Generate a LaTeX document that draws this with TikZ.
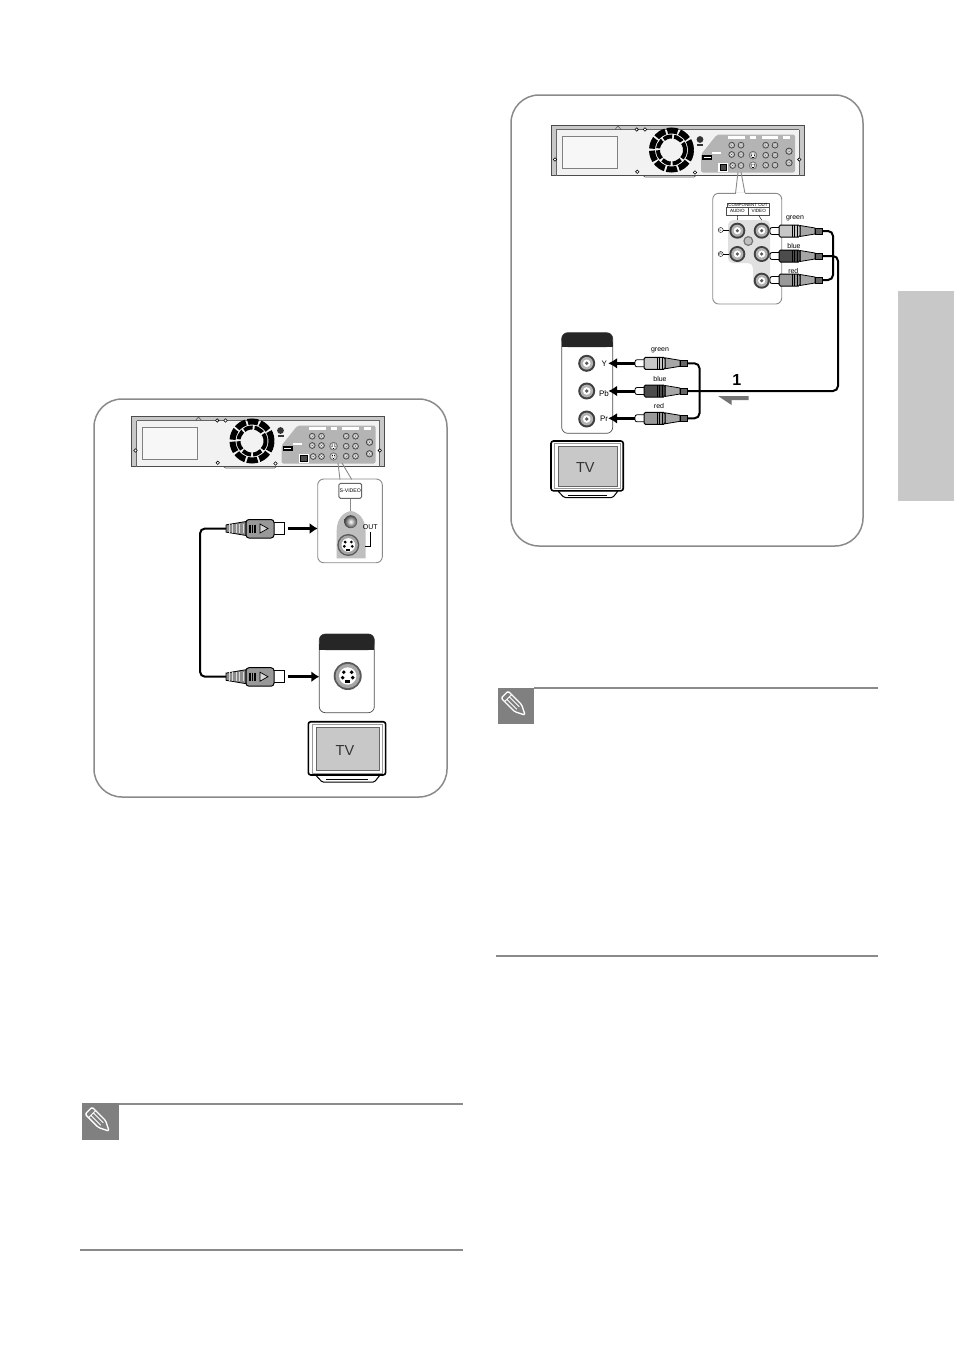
\documentclass[tikz,border=0pt]{standalone}
\usepackage{fontspec}
\setmainfont{Liberation Sans}
\definecolor{framegray}{HTML}{8A8A8A}
\definecolor{panelgray}{HTML}{B4B4B4}
\definecolor{sidegray}{HTML}{C8C8C8}
\definecolor{notegray}{HTML}{808080}
\tikzset{
  frame/.style={draw=framegray,line width=1.5pt,rounded corners=28pt},
  rule/.style={draw=framegray,line width=2pt},
  cable/.style={draw=black,line width=2pt,rounded corners=5pt},
  bigarrow/.style={draw=black,line width=3pt,-{Latex[length=8pt,width=11pt]}},
  magbox/.style={draw=framegray,fill=white,line width=.9pt,rounded corners=6pt,inner sep=0,outer sep=0,anchor=north west},
  portbox/.style={draw=black!70,fill=white,line width=.7pt,rounded corners=6pt,inner sep=0,outer sep=0,anchor=north west},
  wee/.style={font=\fontsize{7}{8}\selectfont,inner sep=0},
  small/.style={font=\fontsize{8}{9}\selectfont,inner sep=0},
  pics/jack/.style={code={
    \fill[black!75] (0,0) circle[radius=#1];
    \fill[black!30] (0,0) circle[radius=.75*#1];
    \fill[white] (0,0) circle[radius=.45*#1];
    \fill[black!65] (0,0) circle[radius=.22*#1];
  }},
  pics/svsocket/.style={code={
    \fill[black!65] (0,0) circle[radius=#1];
    \fill[black!35] (0,0) circle[radius=.87*#1];
    \fill[white] (0,0) circle[radius=.62*#1];
    \fill[black] (-.28*#1,-.27*#1) circle[radius=.14*#1] (.28*#1,-.27*#1) circle[radius=.14*#1]
      (-.36*#1,.12*#1) circle[radius=.14*#1] (.36*#1,.12*#1) circle[radius=.14*#1];
    \fill[black] (-.18*#1,.32*#1) rectangle (.18*#1,.5*#1);
  }},
  pics/svplug/.style={code={
    \draw[fill=black!45,line width=.8pt] (0,-3.6) -- (20,-7) -- (20,7) -- (0,3.6) -- cycle;
    \foreach \i in {3,6.5,10,13.5,17} \draw[black!15,line width=.8pt] (\i,-4.5) -- (\i,4.5);
    \draw[fill=white,line width=1pt] (47,-5.8) rectangle (58.5,5.8);
    \draw[fill=black!40,line width=1pt,rounded corners=3pt] (20,-9) rectangle (48,9.5);
    \foreach \i in {24,26.5,29} \draw[line width=1.2pt] (\i,-4) -- (\i,4);
    \draw[line width=.7pt,fill=black!15] (34,-4.5) -- (42,0) -- (34,4.5) -- cycle;
    \coordinate (-tail) at (0,0);
    \coordinate (-tip) at (58.5,0);
  }},
  pics/rcaplug/.style={code={
    \draw[fill=white,line width=.8pt,rounded corners=2pt] (0,-3.5) rectangle (11,3.5);
    \draw[fill=black!35,line width=.8pt] (30,-5.5) -- (45,-3) -- (45,3) -- (30,5.5) -- cycle;
    \draw[fill=black!60,line width=.8pt] (45,-3) rectangle (52,3);
    \draw[fill=#1,line width=1pt,rounded corners=1.5pt] (9,-6) rectangle (30,6);
    \foreach \i in {22,24.5,27} \draw[line width=.9pt] (\i,-6) -- (\i,6);
    \coordinate (-tip) at (0,0);
    \coordinate (-tail) at (52,0);
  }},
  pics/tvset/.style={code={
    \draw[fill=white,line width=1pt,rounded corners=1.5pt] (7,53) -- (14,60.5) -- (66,60.5) -- (72,53) -- cycle;
    \draw[line width=.4pt] (18,57.5) -- (60,57.5);
    \draw[fill=white,line width=1.6pt,rounded corners=2.5pt] (0,0) rectangle (77.3,53.3);
    \draw[draw=black!60,fill=sidegray,line width=.5pt] (7.7,5.7) rectangle (70.7,48.3);
    \draw[draw=black!40,line width=.4pt] (3.5,2.5) rectangle (73.8,51);
    \node[font=\fontsize{14.5}{16}\selectfont,text=black!80,inner sep=0] (-label) at (36.7,28.5) {TV};
  }},
  pics/pencil/.style={code={
    \draw[white,line width=1.3pt,rounded corners=1.5pt,line join=round]
      (-14,-5) -- (5,-5) -- (15,0) -- (5,5) -- (-14,5) -- cycle;
    \draw[white,line width=.9pt] (-9,-5) -- (-9,5) (-9,-1.7) -- (5,-1.7) (-9,1.7) -- (5,1.7);
  }},
  pics/vcrpanel/.style={code={
    % case and side strips
    \draw[fill=black!5,line width=.8pt] (0,0) rectangle (253,50);
    \fill[sidegray] (0,0) -- (253,0) -- (248,4) -- (5,4) -- cycle;
    \fill[sidegray] (0,0) rectangle (5,50) (248,0) rectangle (253,50);
    \draw[black!70,line width=.8pt] (0,0) rectangle (253,50);
    \draw[black!60,line width=.4pt] (5,4) -- (5,50) (248,4) -- (248,50) (5,4) -- (248,4);
    \draw[black!70,line width=.6pt] (92,50) -- (94,51.5) -- (143,51.5) -- (145,50);
    \draw[black!70,line width=.5pt] (64,4) -- (67,.5) -- (70,4);
    % window
    \draw[fill=black!3,draw=black!50,line width=.6pt] (11,11) rectangle (66,43);
    % fan
    \draw[line width=6pt,dash pattern=on 10.5pt off 2pt] (120.5,24.5) circle[radius=19.5];
    \draw[line width=4pt,dash pattern=on 9pt off 2pt] (120.5,24.5) circle[radius=13.5];
    % screws
    \foreach \sx/\sy in {4/34,85.7/4,94/4,86.3/46.3,144/47,248.3/34}
      \draw[line width=.6pt,fill=white] (\sx,\sy) circle[radius=1.7];
    \fill[black!80] (149,14) circle[radius=3.4];
    \fill[black!80] (146,18.5) rectangle (152,20.5);
    % connector field
    \fill[panelgray,rounded corners=2pt] (150,29) -- (166,9) -- (244,9) -- (244,47) -- (150,47) -- cycle;
    \foreach \lx/\lw in {177.3/16.7,199/6,210.7/16.3,232/7}
      \fill[white] (\lx,10.7) rectangle ++(\lw,3);
    \foreach \jx/\jy in {180.7/19.7,190/19.7,180.7/29,190/29,181.7/40,190/40,
        214.7/19.7,224/19.7,214.7/29.7,224/29.7,214.7/39.7,224/39.7}
      \pic at (\jx,\jy) {jack=3.3};
    \pic at (202,29.7) {svsocket=4.2};
    \pic at (202,40) {svsocket=4};
    \pic at (238,25.7) {jack=3.6};
    \pic at (238,37.3) {jack=3.6};
    \fill[white] (167,37) rectangle (177,46);
    \draw[fill=black!70,draw=black,line width=.5pt] (169,38.5) rectangle (175.5,45);
    \fill[black] (151,29) rectangle (161,34);
    \draw[white,line width=.4pt] (152.5,31.5) -- (159.5,31.5);
    \fill[white] (161,26) rectangle (170,28.5);
    \coordinate (-port) at (206,50);
  }}
}
\usetikzlibrary{arrows.meta}
\begin{document}
\begin{tikzpicture}[x=1pt,y=-1pt,line width=1pt]
  \useasboundingbox (0,0) rectangle (954,1349);
  \fill[sidegray] (898,291) rectangle (954,501);

  % s-video frame
  \draw[frame] (94,399) rectangle (447,797);
  \pic (vcra) at (131.5,416.5) {vcrpanel};
  \node[magbox,minimum width=64.6pt,minimum height=83.7pt] (svbox) at (317.7,479) {};
  \draw[framegray,line width=.9pt] (338,463) -- (340,479.5) (342,463) -- (351.7,479.5);
  \fill[white] (340.6,479.5) rectangle (351,480.5);
  \fill[black!25] (336.7,558.3) -- (336.7,530) .. controls (337,518) and (344,512) .. (351,511)
    .. controls (358,512) and (365,518) .. (365.5,530) -- (365.5,558.3) -- cycle;
  \draw[framegray] (350.5,498) -- (350.5,511);
  \node[draw=black!60,rounded corners=1.5pt,minimum width=22.7pt,minimum height=15pt,inner sep=0,
    font=\fontsize{5.2}{6}\selectfont] (svlabel) at (350.3,490.8) {S-VIDEO};
  \shade[inner color=white,outer color=black!75] (350.7,521.7) circle[radius=6.5];
  \pic at (348.3,545) {svsocket=11};
  \node[small,font=\fontsize{7}{8}\selectfont] (outlabel) at (370.3,527.5) {OUT};
  \draw[line width=.7pt] (370,532) -- (370,546.7) -- (365,546.7);

  \pic (sva) at (226,528.5) {svplug};
  \pic (svb) at (226,676.7) {svplug};
  \coordinate (svbend) at (200,600);
  \draw[cable] (sva-tail) -- (sva-tail -| svbend) -- (svb-tail -| svbend) -- (svb-tail);
  \draw[bigarrow,shorten <=3.5pt] (sva-tip) -- (sva-tip -| svbox.west);

  \node[portbox,minimum width=55pt,minimum height=78.7pt] (tvsv) at (319.3,634) {};
  \fill[black!85,rounded corners=6pt] (319.3,650) -- (319.3,634) -- (374.3,634) -- (374.3,650) -- cycle;
  \fill[black!85] (319.3,644) rectangle (374.3,650);
  \pic at (347.7,676) {svsocket=14};
  \draw[bigarrow,shorten <=3.5pt] (svb-tip) -- (svb-tip -| tvsv.west);
  \pic (tva) at (308.3,721.7) {tvset};

  % note one
  \draw[rule] (119,1104) -- (463,1104);
  \fill[notegray] (82.3,1103.3) rectangle (119,1140);
  \pic[rotate=-45] at (98.5,1120.5) {pencil};
  \draw[rule] (80,1250) -- (463,1250);

  % component frame
  \draw[frame] (511,95) rectangle (863,546);
  \pic (vcrb) at (551,125.5) {vcrpanel};
  \node[magbox,minimum width=69pt,minimum height=110.7pt] (compbox) at (712.7,193.3) {};
  \draw[framegray,line width=.9pt] (738,172) -- (735.5,193.5) (741,172) -- (745,193.5);
  \fill[white] (736,193) rectangle (744.6,194.2);
  \fill[black!12,rounded corners=5pt] (728,220) -- (770,220) -- (770,287) -- (753,287) -- (753,263) -- (728,263) -- cycle;
  \node[wee,draw=black!70,line width=.4pt,minimum width=42.6pt,minimum height=4.6pt,
    font=\fontsize{4.4}{5}\selectfont] (complabel) at (748,205) {COMPONENT OUT};
  \node[wee,draw=black!70,line width=.4pt,minimum width=21.3pt,minimum height=8pt,
    font=\fontsize{4.6}{5}\selectfont] (audiolabel) at (737.3,211.3) {AUDIO};
  \node[wee,draw=black!70,line width=.4pt,minimum width=21.3pt,minimum height=8pt,
    font=\fontsize{4.6}{5}\selectfont] (videolabel) at (758.7,211.3) {VIDEO};
  \draw[line width=.4pt] (audiolabel.south) -- (737.7,220) (videolabel.south) -- (761.7,220);
  \foreach \jx/\jy/\jn in {737.3/230.7/ja,761.7/230.7/jb,737.3/254/jc,761.7/254/jd,761.7/280.7/je}
    \pic (\jn) at (\jx,\jy) {jack=8};
  \fill[black!55] (748.3,241) circle[radius=5];
  \fill[black!25] (748.3,241) circle[radius=3.6];
  \node[wee,draw,circle,line width=.4pt,minimum size=5pt,font=\fontsize{3.6}{4}\selectfont] (leftmark) at (720.7,230) {L};
  \node[wee,draw,circle,line width=.4pt,minimum size=5pt,font=\fontsize{3.6}{4}\selectfont] (rightmark) at (720.7,254) {R};
  \draw[line width=.4pt] (leftmark) -- (729,230) (rightmark) -- (729,254);

  \pic (oa) at (770,231) {rcaplug=black!22};
  \pic (ob) at (770,256) {rcaplug=black!70};
  \pic (oc) at (770,280) {rcaplug=black!40};
  \node[wee] (ogreen) at (795,218.3) {green};
  \node[wee] (oblue) at (794,246) {blue};
  \node[wee] (ored) at (793.3,270.7) {red};

  \node[portbox,minimum width=51pt,minimum height=100.6pt] (tvcomp) at (561.7,332.7) {};
  \fill[black!85,rounded corners=6pt] (561.7,347) -- (561.7,332.7) -- (612.7,332.7) -- (612.7,347) -- cycle;
  \fill[black!85] (561.7,342) rectangle (612.7,347);
  \pic (ty) at (586.7,363.3) {jack=8.5};
  \pic (tb) at (586.7,391) {jack=8.5};
  \pic (tr) at (586.7,419) {jack=8.5};
  \node[small] (ylabel) at (604.3,363.3) {Y};
  \node[small] (pblabel) at (604,394) {Pb};
  \node[small] (prlabel) at (604,419) {Pr};

  \pic (ia) at (635,363.3) {rcaplug=black!22};
  \pic (ib) at (635,391) {rcaplug=black!70};
  \pic (ic) at (635,418.3) {rcaplug=black!40};
  \node[wee] (igreen) at (660,350) {green};
  \node[wee] (iblue) at (660,379) {blue};
  \node[wee] (ired) at (659,406) {red};
  \foreach \p in {ia,ib,ic}
    \draw[draw=black,line width=3pt,shorten >=-4.5pt,-{Latex[length=9pt,width=11pt]}] (\p-tip) -- (\p-tip -| tvcomp.east);

  \coordinate (loopr) at (833,250);
  \coordinate (loopb) at (838,300);
  \coordinate (loopl) at (699.5,390);
  \draw[cable] (oa-tail) -- (oa-tail -| loopr) -- (oc-tail -| loopr) -- (oc-tail);
  \draw[cable] (ob-tail) -- (ob-tail -| loopb) -- (ib-tail -| loopb) -- (ib-tail);
  \draw[cable] (ia-tail) -- (ia-tail -| loopl) -- (ic-tail -| loopl) -- (ic-tail);
  \node[font=\bfseries\fontsize{16}{18}\selectfont,inner sep=0] (steplabel) at (736.7,380) {1};
  \fill[black!55] (718,396) -- (748.5,396) -- (748.5,400) -- (731.5,400) -- (731.5,405) -- cycle;
  \pic[scale=.935] (tvb) at (551,441) {tvset};

  % note two
  \draw[rule] (534,688) -- (878,688);
  \fill[notegray] (498,687.5) rectangle (534,724);
  \pic[rotate=-45] at (514.5,704.5) {pencil};
  \draw[rule] (496,956) -- (878,956);
\end{tikzpicture}
\end{document}
